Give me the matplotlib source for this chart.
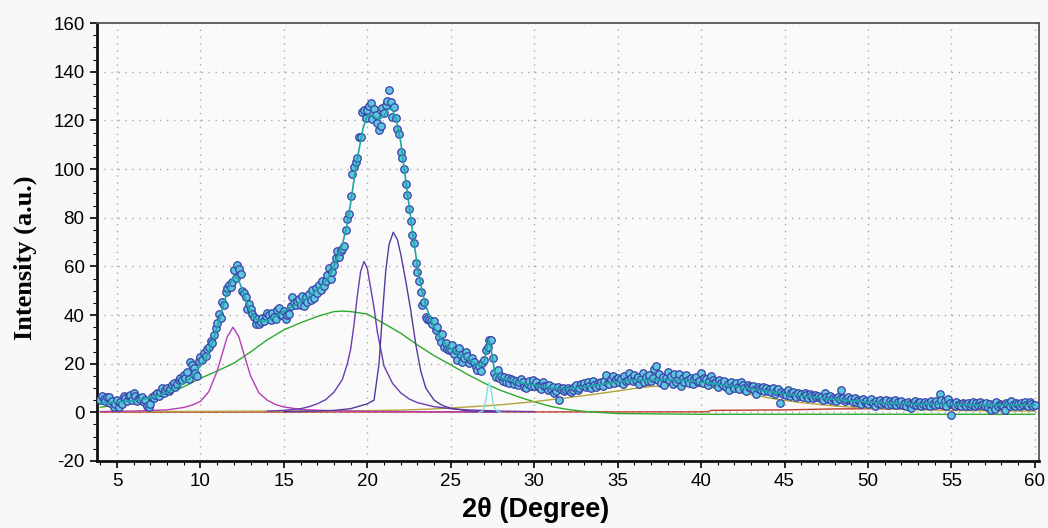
import numpy as np
import matplotlib
matplotlib.use("Agg")
import matplotlib.pyplot as plt
from matplotlib.ticker import MultipleLocator

plt.rcParams["axes.unicode_minus"] = False

# measured intensity, one row per degree (x.0 ... x.9), step 0.1 from 4.0 to 60.0
rows = [
    [5.1, 6.8, 5.5, 4.6, 6.2, 6.5, 3.9, 4.8, 2.2, 3.6],          # 4
    [5.0, 2.3, 4.2, 3.4, 6.9, 5.8, 4.6, 6.7, 7.1, 5.2],          # 5
    [7.8, 6.9, 4.5, 5.9, 5.5, 6.3, 4.2, 5.0, 2.6, 2.0],          # 6
    [3.4, 6.5, 5.8, 7.2, 7.9, 6.8, 8.4, 9.9, 8.1, 9.0],          # 7
    [10.2, 8.7, 9.6, 11.3, 12.0, 10.4, 11.8, 13.1, 14.0, 13.2],  # 8
    [15.5, 14.1, 16.4, 13.9, 20.8, 19.3, 18.2, 16.0, 15.1, 21.0],  # 9
    [22.9, 21.5, 24.5, 23.3, 26.1, 27.0, 29.5, 28.4, 31.9, 34.5],  # 10
    [36.7, 40.5, 38.9, 45.5, 44.2, 49.5, 51.0, 52.3, 51.6, 53.4],  # 11
    [58.5, 55.1, 60.5, 58.9, 56.9, 49.8, 48.9, 47.5, 42.5, 44.6],  # 12
    [42.5, 40.5, 39.2, 36.5, 38.3, 36.5, 37.1, 38.9, 37.5, 39.4],  # 13
    [41.0, 40.0, 38.0, 40.8, 39.3, 38.4, 42.0, 42.8, 40.2, 40.0],  # 14
    [41.6, 38.2, 39.8, 40.5, 43.6, 47.5, 45.0, 44.1, 45.9, 46.5],  # 15
    [44.3, 47.8, 43.6, 47.5, 45.2, 48.6, 46.0, 50.3, 47.1, 50.9],  # 16
    [49.2, 52.5, 50.4, 53.8, 52.0, 54.1, 56.3, 59.2, 55.0, 57.6],  # 17
    [60.5, 63.5, 66.3, 63.8, 66.5, 67.2, 68.5, 75.0, 79.3, 81.5],  # 18
    [89.0, 98.0, 101.0, 103.0, 104.5, 113.0, 113.3, 123.5, 124.3, 121.0],  # 19
    [124.3, 126.0, 127.3, 120.5, 124.5, 122.0, 119.0, 116.0, 117.5, 125.0],  # 20
    [123.0, 126.5, 128.0, 132.5, 127.5, 121.5, 125.5, 121.0, 116.3, 114.3],  # 21
    [107.0, 104.5, 100.0, 94.0, 89.5, 83.5, 78.5, 73.0, 69.5, 61.3],  # 22
    [57.5, 54.0, 49.5, 44.0, 45.5, 39.3, 38.5, 38.0, 37.7, 36.5],  # 23
    [37.7, 33.8, 35.0, 31.1, 29.1, 32.0, 27.0, 28.5, 26.0, 25.5],  # 24
    [25.5, 27.5, 24.0, 25.5, 21.5, 26.3, 23.6, 20.8, 22.5, 24.9],  # 25
    [23.0, 20.1, 21.5, 22.4, 20.8, 18.6, 17.5, 19.0, 16.8, 20.1],  # 26
    [21.5, 25.5, 27.0, 29.7, 29.7, 22.2, 16.0, 14.7, 17.2, 14.0],  # 27
    [15.1, 13.0, 14.6, 12.6, 14.2, 12.0, 13.8, 13.3, 11.5, 13.0],  # 28
    [11.2, 12.4, 13.5, 12.6, 10.6, 9.9, 11.8, 12.9, 10.7, 13.3],   # 29
    [11.0, 12.5, 10.8, 10.3, 9.5, 12.3, 11.0, 10.8, 9.2, 11.4],    # 30
    [9.6, 10.4, 7.8, 8.9, 10.5, 5.1, 9.4, 10.2, 8.6, 9.3],         # 31
    [10.1, 9.2, 8.4, 9.2, 10.6, 11.2, 9.1, 10.1, 11.5, 10.8],      # 32
    [11.9, 10.5, 12.4, 11.0, 9.8, 12.7, 11.3, 10.6, 12.2, 11.1],   # 33
    [12.5, 10.9, 13.0, 15.3, 12.1, 11.5, 13.8, 14.8, 12.2, 13.6],  # 34
    [14.0, 12.5, 13.7, 11.8, 14.9, 12.9, 13.3, 16.3, 14.1, 12.7],  # 35
    [15.2, 13.4, 14.4, 11.5, 13.9, 16.0, 12.6, 14.7, 13.0, 15.3],  # 36
    [12.8, 14.2, 17.8, 19.0, 13.4, 15.6, 12.1, 14.5, 11.4, 14.0],  # 37
    [16.4, 13.2, 14.8, 11.7, 15.9, 12.5, 13.8, 15.6, 11.0, 14.1],  # 38
    [12.4, 15.5, 13.1, 12.2, 14.3, 11.5, 13.6, 14.6, 12.3, 13.0],  # 39
    [16.3, 12.1, 14.2, 13.5, 11.4, 12.7, 14.8, 13.2, 11.9, 12.6],  # 40
    [10.6, 13.4, 12.0, 11.2, 12.8, 10.3, 11.5, 9.2, 12.4, 11.0],   # 41
    [10.2, 11.9, 10.5, 9.6, 12.6, 11.2, 10.1, 8.9, 11.3, 10.6],    # 42
    [9.8, 10.9, 9.3, 7.4, 10.5, 9.6, 9.1, 10.4, 8.6, 9.9],         # 43
    [8.9, 9.6, 8.2, 10.1, 7.5, 8.8, 9.4, 4.0, 8.3, 7.6],           # 44
    [8.1, 7.2, 9.0, 6.9, 7.8, 8.5, 7.0, 6.3, 7.9, 6.8],            # 45
    [7.4, 6.5, 8.1, 7.0, 6.0, 7.6, 6.7, 5.9, 7.2, 6.3],            # 46
    [6.8, 5.7, 6.4, 5.1, 7.9, 6.2, 5.5, 6.6, 5.0, 6.0],            # 47
    [5.6, 4.8, 6.1, 5.3, 9.2, 5.9, 4.6, 5.5, 6.2, 4.9],            # 48
    [5.3, 4.4, 5.8, 4.1, 5.0, 4.6, 3.5, 5.4, 4.3, 4.8],            # 49
    [3.3, 4.6, 5.5, 3.9, 2.4, 4.8, 4.0, 5.1, 3.4, 4.4],            # 50
    [3.8, 5.2, 3.1, 4.6, 3.6, 4.2, 5.0, 3.0, 4.1, 3.5],            # 51
    [4.7, 3.2, 3.9, 2.7, 4.4, 3.6, 1.9, 3.3, 4.5, 2.9],            # 52
    [3.7, 4.1, 2.6, 3.5, 4.3, 3.0, 3.9, 2.8, 4.6, 3.4],            # 53
    [3.1, 4.8, 3.6, 7.6, 5.2, 3.2, 4.6, 2.7, 5.5, 3.8],            # 54
    [-1.0, 3.4, 2.7, 4.1, 3.0, 3.6, 2.5, 4.0, 3.3, 2.6],           # 55
    [3.9, 2.8, 3.5, 4.3, 2.4, 3.7, 3.1, 4.4, 2.9, 3.6],            # 56
    [2.7, 3.8, 2.2, 3.4, 1.0, 3.0, 1.2, 4.2, 2.6, 3.5],            # 57
    [3.1, 2.5, 1.0, 3.9, 3.3, 2.4, 4.5, 3.0, 2.7, 4.0],            # 58
    [3.3, 2.6, 3.8, 2.9, 4.4, 3.1, 2.5, 4.1, 3.4, 2.8],            # 59
    [3.0],                                                          # 60
]
intensity = [v for r in rows for v in r]
two_theta = np.round(np.arange(40, 40 + len(intensity)) * 0.1, 1)

# cumulative fit
fit_x = [4.0, 4.5, 5.0, 5.5, 6.0, 6.5, 7.0, 7.5, 8.0, 8.5, 9.0, 9.5,
         10.0, 10.25, 10.5, 10.75, 11.0, 11.25, 11.5, 11.75, 12.0, 12.25, 12.5, 12.75,
         13.0, 13.25, 13.5, 13.75, 14.0, 14.25, 14.5, 14.75, 15.0, 15.25, 15.5, 15.75,
         16.0, 16.25, 16.5, 16.75, 17.0, 17.25, 17.5, 17.75, 18.0, 18.25, 18.5, 18.75,
         19.0, 19.25, 19.5, 19.75, 20.0, 20.25, 20.5, 20.75, 21.0, 21.25, 21.5, 21.75,
         22.0, 22.25, 22.5, 22.75, 23.0, 23.25, 23.5, 23.75, 24.0, 24.5, 25.0, 25.5,
         26.0, 26.5, 26.8, 26.9, 27.0, 27.1, 27.2, 27.3, 27.4, 27.5, 27.6, 27.7, 27.8,
         28.0, 28.5, 29.0, 29.5, 30.0, 30.5, 31.0, 31.5, 32.0, 32.5, 33.0, 33.5, 34.0,
         34.5, 35.0, 36.0, 37.0, 38.0, 39.0, 40.0, 41.0, 42.0, 43.0, 44.0, 45.0, 46.0,
         47.0, 48.0, 49.0, 50.0, 51.0, 52.0, 53.0, 54.0, 55.0, 56.0, 57.0, 58.0, 59.0, 60.0]
fit_y = [4.0, 4.0, 4.2, 4.5, 4.8, 5.3, 6.0, 7.0, 8.3, 10.0, 12.0, 14.8,
         19.0, 21.5, 25.0, 29.5, 35.0, 41.0, 47.0, 52.5, 56.0, 55.0, 50.5, 45.5,
         41.5, 38.8, 37.5, 37.3, 37.8, 38.5, 39.5, 40.5, 41.5, 42.5, 43.5, 44.5,
         45.5, 46.5, 47.5, 48.8, 50.5, 52.0, 54.0, 56.5, 60.0, 64.5, 69.0, 76.0,
         86.0, 98.0, 108.0, 117.0, 122.0, 122.5, 121.0, 120.5, 122.0, 124.5, 124.5, 120.0,
         111.0, 98.0, 85.0, 72.0, 60.0, 51.0, 44.0, 39.0, 35.0, 29.5, 26.0, 24.0,
         22.0, 20.0, 19.0, 19.5, 21.0, 24.0, 27.5, 29.5, 27.0, 22.0, 18.0, 16.0, 15.0,
         14.2, 13.2, 12.4, 11.8, 11.3, 10.7, 10.2, 9.8, 9.8, 10.0, 10.5, 11.0, 11.5,
         12.0, 12.5, 13.2, 13.4, 13.4, 13.0, 12.4, 11.6, 10.6, 9.6, 8.6, 7.6, 6.8,
         6.0, 5.3, 4.7, 4.2, 3.9, 3.6, 3.4, 3.3, 3.2, 3.1, 3.0, 3.0, 3.0, 3.0]

# fitted components
mag_x = [4, 6, 8, 9, 9.5, 10, 10.5, 11, 11.3, 11.6, 11.95, 12.3, 12.6, 13, 13.5,
         14, 14.5, 15, 16, 18, 21, 25, 28]
mag_y = [0.3, 0.5, 1.0, 2.0, 3.0, 4.5, 8.5, 17, 24, 31, 35, 31, 24, 15, 8,
         5, 3.2, 2.2, 1.2, 0.6, 0.3, 0.2, 0.1]

grn_x = [4, 5, 6, 7, 8, 9, 10, 11, 12, 13, 14, 15, 16, 17, 18, 18.5, 19, 20, 21,
         22, 23, 24, 25, 26, 27, 28, 29, 30, 31, 32, 33, 35, 40, 45, 50, 55, 60]
grn_y = [2.1, 3.0, 4.0, 5.6, 7.8, 10.5, 14, 17, 20.2, 24.8, 29.8, 33.9, 36.8, 39.4,
         41.4, 41.6, 41.4, 40.4, 36.5, 32.5, 27.7, 23.3, 19.5, 15.6, 12, 9, 6.5, 4.3,
         2.4, 1.2, 0.4, -0.5, -0.8, -0.8, -0.8, -0.8, -0.8]

pu1_x = [14, 15, 16, 16.5, 17, 17.5, 18, 18.5, 18.8, 19, 19.2, 19.4, 19.6, 19.8, 20,
         20.2, 20.4, 20.6, 20.8, 21, 21.5, 22, 22.5, 23, 24, 25, 26, 28, 30]
pu1_y = [0.5, 0.8, 1.5, 2.3, 3.5, 5.2, 8.3, 13.5, 20, 26, 36, 48, 58, 62, 59,
         51, 43, 33, 26, 19, 12, 8, 5.5, 4, 2.3, 1.5, 1.0, 0.5, 0.3]

pu2_x = [15, 17, 18, 19, 19.5, 20, 20.4, 20.7, 20.9, 21.1, 21.3, 21.55, 21.8, 22.0,
         22.3, 22.6, 22.9, 23.2, 23.5, 24, 24.5, 25, 26, 28]
pu2_y = [0.3, 0.5, 0.8, 1.5, 2.5, 3.5, 5, 20, 40, 58, 69, 74, 71, 65,
         54, 42, 28, 17, 10, 5, 2.8, 1.7, 0.6, 0.2]

cyn_x = [26.7, 26.9, 27.0, 27.1, 27.2, 27.3, 27.4, 27.5, 27.6, 27.8, 28.0]
cyn_y = [0, 0.5, 2, 5, 10, 12.2, 10, 5, 2, 0.3, 0]

olv_x = [4, 10, 15, 18, 20, 22, 24, 26, 28, 30, 32, 34, 35, 36, 37, 38, 39, 40, 41,
         42, 43, 44, 45, 46, 48, 50, 52, 55, 58, 60]
olv_y = [0.3, 0.4, 0.5, 0.6, 0.7, 0.9, 1.4, 2.2, 3.1, 4.4, 6.0, 7.8, 8.8, 9.8, 10.6,
         11.0, 11.0, 10.6, 9.8, 8.6, 7.3, 6.0, 4.9, 4.0, 2.6, 1.7, 1.2, 0.8, 0.6, 0.5]

red_x = [4, 40.4, 40.6, 45, 48, 60]
red_y = [0.1, 0.2, 0.8, 1.0, 1.4, 1.8]

fig = plt.figure(figsize=(10.48, 5.28), dpi=100, facecolor="#f8f8f8")
ax = fig.add_axes([0.0926, 0.1269, 0.8988, 0.8295])
ax.set_facecolor("#fafafa")

lw = 1.0
ax.plot(red_x, red_y, color="#c0392b", lw=lw, zorder=2)
ax.plot(grn_x, grn_y, color="#2eaa2e", lw=lw, zorder=2)
ax.plot(olv_x, olv_y, color="#b5a33a", lw=lw, zorder=2)
ax.plot(mag_x, mag_y, color="#b83cb8", lw=lw, zorder=2)
ax.plot(pu1_x, pu1_y, color="#6a3cb0", lw=lw, zorder=2)
ax.plot(pu2_x, pu2_y, color="#553a9e", lw=lw, zorder=2)
ax.plot(cyn_x, cyn_y, color="#7fe3e3", lw=lw, zorder=2)

ax.plot(two_theta, intensity, "o", ms=5.4, mfc="#5cc6dc", mec="#3b3fa8",
        mew=0.9, zorder=3)
ax.plot(fit_x, fit_y, color="#1fa6a6", lw=1.2, zorder=4)

ax.set_xlim(3.8, 60.25)
ax.set_ylim(-20, 160)
ax.xaxis.set_major_locator(MultipleLocator(5))
ax.xaxis.set_minor_locator(MultipleLocator(1))
ax.yaxis.set_major_locator(MultipleLocator(20))
ax.yaxis.set_minor_locator(MultipleLocator(5))
ax.grid(True, which="major", color="#a8a8a8", linestyle=(0, (1, 4)), linewidth=1)
ax.set_axisbelow(True)

for s in ["left", "bottom"]:
    ax.spines[s].set_linewidth(2.0)
    ax.spines[s].set_color("#111111")
for s in ["top", "right"]:
    ax.spines[s].set_linewidth(1.3)
    ax.spines[s].set_color("#555555")

ax.tick_params(which="major", direction="out", length=5, width=1.2,
               labelsize=13.5, pad=4)
ax.tick_params(which="minor", direction="out", length=3, width=0.8)
for lab in ax.get_xticklabels() + ax.get_yticklabels():
    lab.set_fontfamily("Liberation Sans")

ax.set_xlabel("2θ (Degree)", fontsize=19.5, fontweight="bold",
              family="Liberation Sans")
ax.set_ylabel("Intensity (a.u.)", fontsize=19, fontweight="bold",
              family="Liberation Serif")
ax.xaxis.set_label_coords(0.466, -0.082)
ax.yaxis.set_label_coords(-0.064, 0.463)

fig.savefig("out.png", dpi=100, facecolor=fig.get_facecolor())
